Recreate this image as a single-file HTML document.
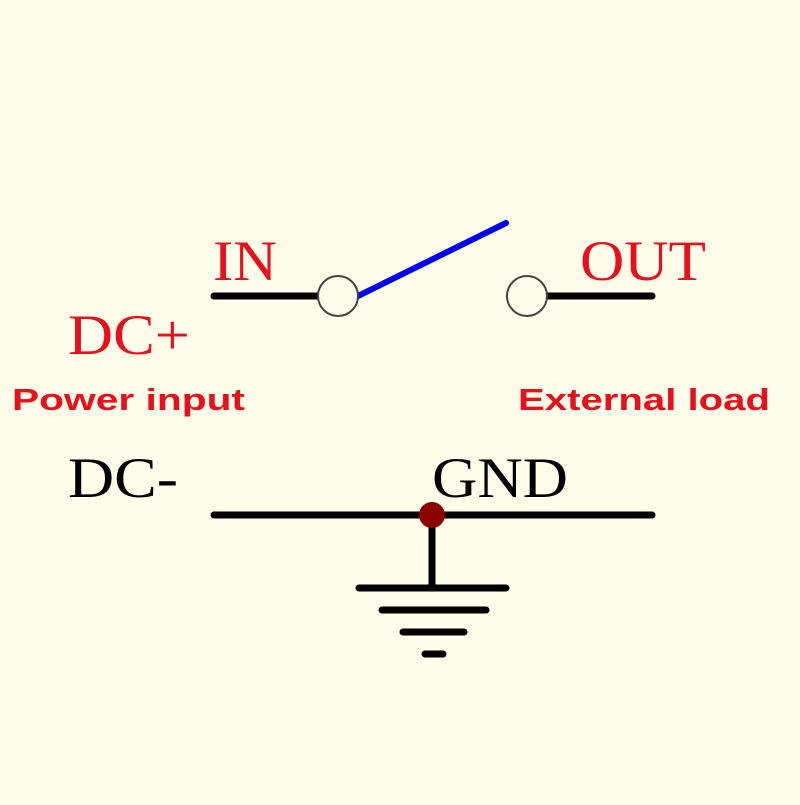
<!DOCTYPE html>
<html><head><style>body{margin:0;background:#fefde9}</style></head><body>
<svg width="800" height="800" xmlns="http://www.w3.org/2000/svg">
<rect width="800" height="800" fill="#fefde9"/>
<g stroke="#000" stroke-width="7" stroke-linecap="round">
<line x1="214" y1="296" x2="318" y2="296"/>
<line x1="547" y1="296" x2="652" y2="296"/>
<line x1="214" y1="515" x2="652" y2="515"/>
<line x1="432" y1="515" x2="432" y2="587"/>
<line x1="359" y1="588" x2="506" y2="588"/>
<line x1="382" y1="610" x2="486" y2="610"/>
<line x1="403" y1="632" x2="464" y2="632"/>
<line x1="425" y1="654" x2="443" y2="654"/>
</g>
<line x1="358" y1="296" x2="506" y2="223" stroke="#0000ee" stroke-width="6" stroke-linecap="round"/>
<circle cx="338" cy="296" r="20" fill="#fefde9" stroke="#444" stroke-width="2"/>
<circle cx="527" cy="296" r="20" fill="#fefde9" stroke="#444" stroke-width="2"/>
<circle cx="432" cy="515" r="13" fill="#8b0000"/>
<g font-family="Liberation Serif, serif" font-size="57" lengthAdjust="spacingAndGlyphs">
<text x="213" y="280" fill="#e8101c" textLength="64" lengthAdjust="spacingAndGlyphs">IN</text>
<text x="580" y="280" fill="#e8101c" textLength="126" lengthAdjust="spacingAndGlyphs">OUT</text>
<text x="68" y="354" fill="#e8101c" textLength="122" lengthAdjust="spacingAndGlyphs">DC+</text>
<text x="68" y="497" fill="#000" textLength="110" lengthAdjust="spacingAndGlyphs">DC-</text>
<text x="432" y="497" fill="#000" textLength="136" lengthAdjust="spacingAndGlyphs">GND</text>
</g>
<g font-family="Liberation Sans, sans-serif" font-size="31" font-weight="bold" fill="#e8101c">
<text x="12" y="410" textLength="233" lengthAdjust="spacingAndGlyphs">Power input</text>
<text x="518" y="410" textLength="252" lengthAdjust="spacingAndGlyphs">External load</text>
</g>
</svg>
</body></html>
